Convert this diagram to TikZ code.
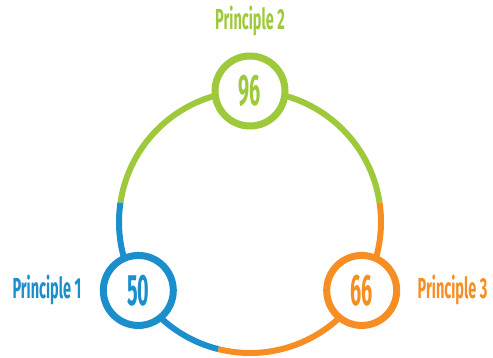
\documentclass[tikz,border=0pt]{standalone}
\usepackage{fontspec}
\usetikzlibrary{positioning,calc}
\newfontfamily\labelfont{Fira Sans}[FakeStretch=0.5]
\newfontfamily\numfont{Fira Sans}[FakeStretch=0.45]
\definecolor{pgreen}{RGB}{157,201,59}
\definecolor{pblue}{RGB}{27,142,204}
\definecolor{porange}{RGB}{246,142,35}
\begin{document}
\begin{tikzpicture}
  [x=1pt,y=1pt,
   ring/.style={line width=6pt},
   score/.style={circle,draw,fill=white,line width=7pt,minimum size=70pt,
                 inner sep=0,font=\numfont\bfseries\fontsize{44}{44}\selectfont},
   caption/.style={font=\labelfont\bfseries\fontsize{29}{29}\selectfont}]
  \useasboundingbox (0,0) rectangle (493,357);
  \coordinate (c) at (250,135);
  % the ring, in three coloured parts
  \draw[ring,pgreen] ($(c)+(8.5:131)$) arc (8.5:171.5:131);
  \draw[ring,pblue] ($(c)+(171.5:131)$) arc (171.5:256:131);
  \draw[ring,porange] ($(c)+(256:131)$) arc (256:368.5:131);
  % scores sitting on the ring
  \node[score,draw=pblue,text=pblue] (p1) at ($(c)+(211.5:131)$) {50};
  \node[score,draw=pgreen,text=pgreen] (p2) at ($(c)+(90:131)$) {96};
  \node[score,draw=porange,text=porange] (p3) at ($(c)+(328.5:131)$) {66};
  \node[caption,text=pblue,left=15pt of p1] (l1) {Principle 1};
  \node[caption,text=pgreen,above=13pt of p2] (l2) {Principle 2};
  \node[caption,text=porange,right=14pt of p3] (l3) {Principle 3};
\end{tikzpicture}
\end{document}
